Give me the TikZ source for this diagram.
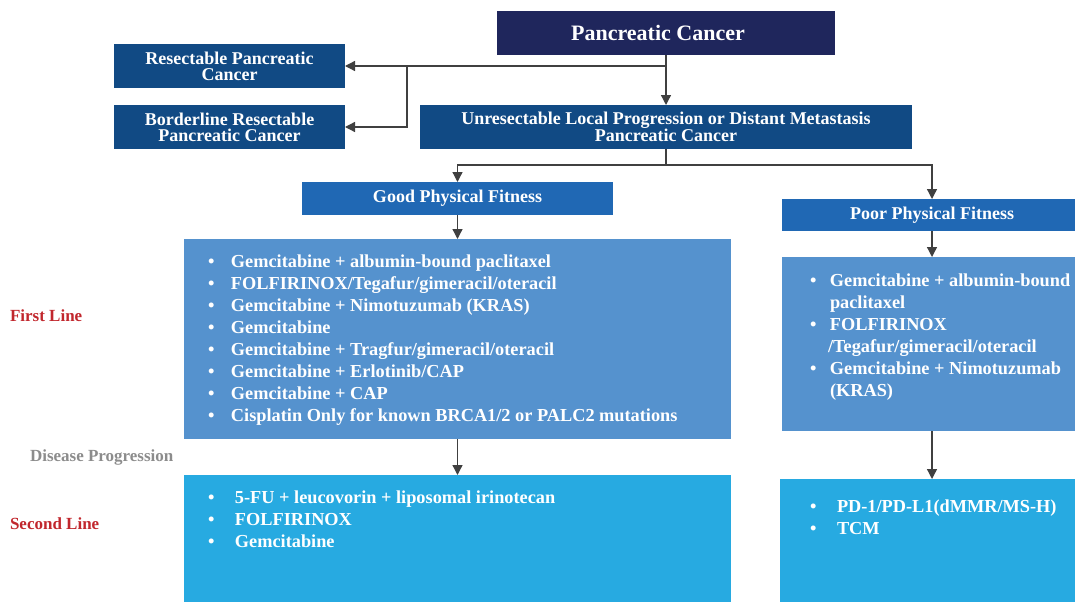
\documentclass[tikz,border=0pt]{standalone}
\usepackage{fontspec}
\setmainfont{Liberation Serif}
\usetikzlibrary{arrows.meta}

\definecolor{navy}{HTML}{1F265C}
\definecolor{darkblue}{HTML}{114A84}
\definecolor{midblue}{HTML}{2068B4}
\definecolor{lightblue}{HTML}{5592CE}
\definecolor{skyblue}{HTML}{27AAE1}
\definecolor{linered}{HTML}{C1272D}
\definecolor{progray}{HTML}{8C8C8C}

\begin{document}
\begin{tikzpicture}[
    x=1pt, y=-1pt,
    every node/.style={
        inner sep=0pt,
        outer sep=0pt,
    },
    box/.style n args={3}{
        fill=#1,rectangle,
        text=white,
        align=center,
        minimum width=#2pt,
        minimum height=#3pt,
    },
    head/.style={
        font=\bfseries\fontsize{18}{16}\selectfont,
    },
    listtext/.style={
        text=white,
        align=left,
        anchor=north west,
        font=\bfseries\fontsize{18.3}{22}\selectfont,
    },
    sidelabel/.style={
        text=#1,
        anchor=west,
        font=\bfseries\fontsize{17}{18}\selectfont,
    },
    arr/.style={
        draw=black!75,
        line width=1.3pt,
        -{Triangle[width=10pt,length=10pt]},
    },
]
    \useasboundingbox (0,0) rectangle (1075,602);
    % ~~~ bullets ~~~~~~~~~~~~~~~~~~~~~~~~~~~~~~~~~~~~~~~~~~~~~~~~~~~~~~
    \newcommand\bul[1]{\makebox[#1pt][l]{\textbullet}}
    \newcommand\ind[1]{\hspace*{#1pt}}

    % ~~~ header boxes ~~~~~~~~~~~~~~~~~~~~~~~~~~~~~~~~~~~~~~~~~~~~~~~~~
    \node[box={navy}{338}{44},font=\bfseries\fontsize{22}{24}\selectfont] (pc) at (666,33) {Pancreatic Cancer\hspace*{16pt}};
    \node[box={darkblue}{231}{44},head] (res) at (229.5,66) {Resectable Pancreatic\\Cancer};
    \node[box={darkblue}{231}{44},head] (border) at (229.5,127) {Borderline Resectable\\Pancreatic Cancer};
    \node[box={darkblue}{492}{44},head] (unres) at (666,127) {Unresectable Local Progression or Distant Metastasis\\Pancreatic Cancer};
    \node[box={midblue}{311}{33},head] (good) at (457.5,198.5) {Good Physical Fitness};
    \node[box={midblue}{300}{32},head] (poor) at (932,215) {Poor Physical Fitness};

    % ~~~ treatment boxes ~~~~~~~~~~~~~~~~~~~~~~~~~~~~~~~~~~~~~~~~~~~~~~
    \node[box={lightblue}{547}{200}] (first1) at (457.5,339) {};
    \node[box={lightblue}{300}{174}] (first2) at (932,344) {};
    \node[box={skyblue}{547}{127}] (second1) at (457.5,538.5) {};
    \node[box={skyblue}{302}{123}] (second2) at (931,540.5) {};

    \node[listtext] (list1) at (208,255) {%
        \bul{23}Gemcitabine + albumin-bound paclitaxel\\
        \bul{23}FOLFIRINOX/Tegafur/gimeracil/oteracil\\
        \bul{23}Gemcitabine + Nimotuzumab (KRAS)\\
        \bul{23}Gemcitabine\\
        \bul{23}Gemcitabine + Tragfur/gimeracil/oteracil\\
        \bul{23}Gemcitabine + Erlotinib/CAP\\
        \bul{23}Gemcitabine + CAP\\
        \bul{23}Cisplatin Only for known BRCA1/2 or PALC2 mutations};
    \node[listtext] (list2) at (810,274) {%
        \bul{20}Gemcitabine + albumin-bound\\
        \ind{20}paclitaxel\\
        \bul{20}FOLFIRINOX\\
        \ind{18}/Tegafur/gimeracil/oteracil\\
        \bul{20}Gemcitabine + Nimotuzumab\\
        \ind{20}(KRAS)};
    \node[listtext] (list3) at (208,491) {%
        \bul{27}5-FU + leucovorin + liposomal irinotecan\\
        \bul{27}FOLFIRINOX\\
        \bul{27}Gemcitabine};
    \node[listtext] (list4) at (810,500) {%
        \bul{27}PD-1/PD-L1(dMMR/MS-H)\\
        \bul{27}TCM};

    % ~~~ side labels ~~~~~~~~~~~~~~~~~~~~~~~~~~~~~~~~~~~~~~~~~~~~~~~~~~
    \node[sidelabel=linered] (l1) at (10,316) {First Line};
    \node[sidelabel=progray] (dp) at (30,457) {Disease Progression};
    \node[sidelabel=linered] (l2) at (10,524) {Second Line};

    % ~~~ connectors ~~~~~~~~~~~~~~~~~~~~~~~~~~~~~~~~~~~~~~~~~~~~~~~~~~~
    \coordinate (split) at (407,66);
    \draw[arr] (pc.south |- res.east) -- (res.east);
    \draw[arr] (split) |- (border.east);
    \draw[arr] (unres.south) -- ++(0,16) -| (good.north);
    \draw[arr] (unres.south) -- ++(0,16) -| (poor.north);
    \foreach \a/\b in {pc/unres,good/first1,first1/second1,poor/first2,first2/second2}{
        \draw[arr] (\a.south) -- (\a.south |- \b.north);
    }
\end{tikzpicture}
\end{document}
